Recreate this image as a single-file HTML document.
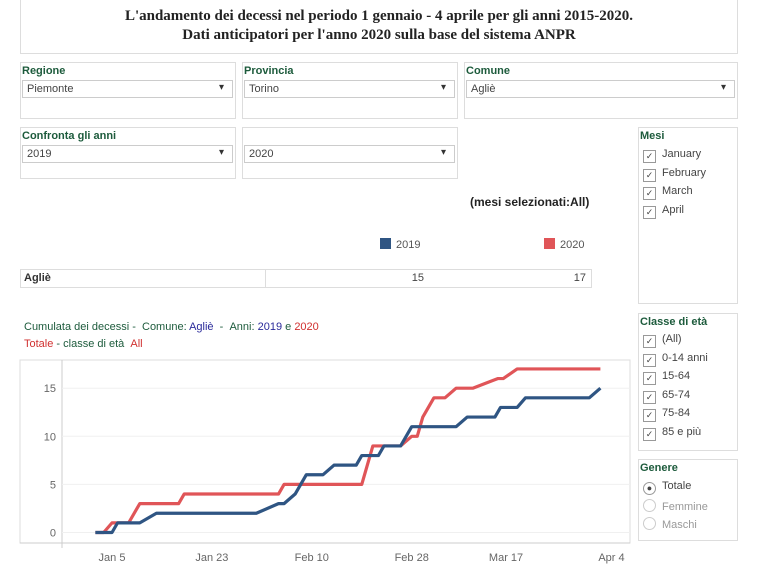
<!DOCTYPE html>
<html><head><meta charset="utf-8"><style>
body{margin:0;width:768px;height:568px;background:#fff;font-family:"Liberation Sans",sans-serif;position:relative;overflow:hidden;color:#333}
.box{position:absolute;border:1px solid #ddd;box-sizing:border-box}
.h{position:absolute;font-size:11px;font-weight:bold;color:#1d5b3c}
.sel{position:absolute;border:1px solid #ccc;height:18px;box-sizing:border-box;font-size:11px;color:#444;padding:2px 4px;background:#fff}
.sel:after{content:"▾";position:absolute;right:8px;top:1px;font-size:10px;color:#333}
.ck{position:absolute;font-size:11px;color:#444;left:5px}
.ck span{display:inline-block;width:11px;height:11px;border:1px solid #999;font-size:9px;line-height:11px;text-align:center;margin-right:6px;vertical-align:-2px}
.rd span{border-radius:50%}
</style></head><body>
<div class="box" style="left:20px;top:0;width:718px;height:54px;border-top:none"></div>
<div style="position:absolute;left:20px;top:7px;width:718px;text-align:center;font-family:'Liberation Serif',serif;font-weight:bold;font-size:15px;line-height:19px;color:#222">L'andamento dei decessi nel periodo 1 gennaio - 4 aprile per gli anni 2015-2020.<br>Dati anticipatori per l'anno 2020 sulla base del sistema ANPR</div>

<div class="box" style="left:20px;top:62px;width:216px;height:57px"></div>
<div class="h" style="left:22px;top:65px">Regione</div>
<div class="sel" style="left:22px;top:80px;width:211px">Piemonte</div>
<div class="box" style="left:242px;top:62px;width:216px;height:57px"></div>
<div class="h" style="left:244px;top:65px">Provincia</div>
<div class="sel" style="left:244px;top:80px;width:211px">Torino</div>
<div class="box" style="left:464px;top:62px;width:274px;height:57px"></div>
<div class="h" style="left:466px;top:65px">Comune</div>
<div class="sel" style="left:466px;top:80px;width:269px">Agliè</div>

<div class="box" style="left:20px;top:127px;width:216px;height:52px"></div>
<div class="h" style="left:22px;top:130px">Confronta gli anni</div>
<div class="sel" style="left:22px;top:145px;width:211px">2019</div>
<div class="box" style="left:242px;top:127px;width:216px;height:52px"></div>
<div class="sel" style="left:244px;top:145px;width:211px">2020</div>

<div class="box" style="left:638px;top:127px;width:100px;height:177px"></div>
<div class="h" style="left:640px;top:130px">Mesi</div>
<div class="ck" style="left:643px;top:148px"><span>✓</span>January</div>
<div class="ck" style="left:643px;top:167px"><span>✓</span>February</div>
<div class="ck" style="left:643px;top:185px"><span>✓</span>March</div>
<div class="ck" style="left:643px;top:204px"><span>✓</span>April</div>

<div class="box" style="left:638px;top:313px;width:100px;height:138px"></div>
<div class="h" style="left:640px;top:316px">Classe di età</div>
<div class="ck" style="left:643px;top:333px"><span>✓</span>(All)</div>
<div class="ck" style="left:643px;top:352px"><span>✓</span>0-14 anni</div>
<div class="ck" style="left:643px;top:370px"><span>✓</span>15-64</div>
<div class="ck" style="left:643px;top:389px"><span>✓</span>65-74</div>
<div class="ck" style="left:643px;top:407px"><span>✓</span>75-84</div>
<div class="ck" style="left:643px;top:426px"><span>✓</span>85 e più</div>

<div class="box" style="left:638px;top:459px;width:100px;height:82px"></div>
<div class="h" style="left:640px;top:462px">Genere</div>
<div class="ck rd" style="left:643px;top:480px"><span>●</span>Totale</div>
<div class="ck rd" style="left:643px;top:499px;color:#999"><span style="border-color:#ccc"></span>Femmine</div>
<div class="ck rd" style="left:643px;top:517px;color:#999"><span style="border-color:#ccc"></span>Maschi</div>

<div style="position:absolute;left:470px;top:195px;font-size:12px;font-weight:bold;color:#222">(mesi selezionati:All)</div>
<div style="position:absolute;left:380px;top:238px;font-size:11px;color:#555"><span style="display:inline-block;width:11px;height:11px;background:#2f5583;vertical-align:-1px;margin-right:5px"></span>2019</div>
<div style="position:absolute;left:544px;top:238px;font-size:11px;color:#555"><span style="display:inline-block;width:11px;height:11px;background:#e05558;vertical-align:-1px;margin-right:5px"></span>2020</div>

<div class="box" style="left:20px;top:269px;width:572px;height:19px;border-color:#ddd"></div>
<div style="position:absolute;left:265px;top:269px;width:1px;height:19px;background:#ddd"></div>
<div style="position:absolute;left:24px;top:272px;font-size:11px;font-weight:bold;color:#333">Agliè</div>
<div style="position:absolute;left:380px;top:272px;width:44px;text-align:right;font-size:11px;color:#444">15</div>
<div style="position:absolute;left:540px;top:272px;width:46px;text-align:right;font-size:11px;color:#444">17</div>

<div style="position:absolute;left:24px;top:319px;font-size:11px;line-height:17px;color:#1d5b3c">Cumulata dei decessi -&nbsp; Comune: <span style="color:#2a2a9a">Agliè</span> &nbsp;- &nbsp;Anni: <span style="color:#2a2a9a">2019</span> e <span style="color:#d0302f">2020</span><br><span style="color:#d0302f">Totale</span> - classe di età &nbsp;<span style="color:#d0302f">All</span></div>

<svg id="chart" style="position:absolute;left:0;top:0" width="768" height="568"></svg>
<script>
const yTicks=[0,5,10,15];
const xTickLabels=["Jan 5","Jan 23","Feb 10","Feb 28","Mar 17","Apr 4"];
const xTickDays=[5,23,41,59,76,95];
const days2019=[2,5,6,10,13,31,35,36,38,40,43,45,49,50,53,54,57,59,67,69,74,75,78,79.5,91,93];
const vals2019=[0,0,1,1,2,2,3,3,4,6,6,7,7,8,8,9,9,11,11,12,12,13,13,14,14,15];
const days2020=[2,3.5,5,8,10,17,18,35,36,50,52,57,59,60,61,63,65,67,70,74.5,75.5,78,93];
const vals2020=[0,0,1,1,3,3,4,4,5,5,9,9,10,10,12,14,14,15,15,16,16,17,17];
const NS="http://www.w3.org/2000/svg";
const svg=document.getElementById('chart');
const X=d=>112+(d-5)*5.55;
const Y=v=>532.5-v*9.62;
function mk(t,a){const e=document.createElementNS(NS,t);for(const k in a)e.setAttribute(k,a[k]);svg.appendChild(e);return e;}
let fr=mk('rect',{x:20,y:360,width:610,height:183,fill:'none',stroke:'#ddd'});


let ax=mk('line',{x1:62,y1:360,x2:62,y2:548,stroke:'#ccc'});


let bx=mk('line',{x1:20,y1:543,x2:630,y2:543,stroke:'#ccc'});


yTicks.forEach(v=>{
  const g=mk('line',{x1:62,x2:630,y1:Y(v),y2:Y(v),stroke:'#f0f0f0'});
  
  
  const t=mk('text',{x:56,y:Y(v)+4,'text-anchor':'end','font-size':11,fill:'#666','font-family':'Liberation Sans,sans-serif'});
  t.textContent=v;
  
  
});
xTickLabels.forEach((l,i)=>{
  const t=mk('text',{x:X(xTickDays[i]),y:561,'text-anchor':'middle','font-size':11,fill:'#666','font-family':'Liberation Sans,sans-serif'});
  t.textContent=l;
  
  
});
function line(ds,vs,c,n){
  const p=mk('polyline',{points:ds.map((d,i)=>X(d)+','+Y(vs[i])).join(' '),fill:'none',stroke:c,'stroke-width':3.2,'stroke-linejoin':'round'});
  
  
}
line(days2020,vals2020,'#e05558','line-2020');
line(days2019,vals2019,'#2f5583','line-2019');
</script>
</body></html>
